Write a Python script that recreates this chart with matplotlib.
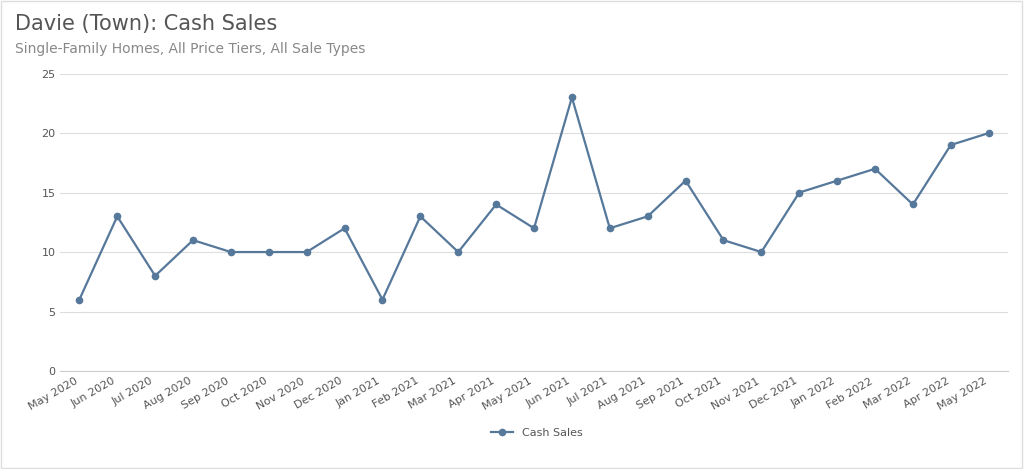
import matplotlib.pyplot as plt

months = ['May 2020', 'Jun 2020', 'Jul 2020', 'Aug 2020', 'Sep 2020', 'Oct 2020',
          'Nov 2020', 'Dec 2020', 'Jan 2021', 'Feb 2021', 'Mar 2021', 'Apr 2021',
          'May 2021', 'Jun 2021', 'Jul 2021', 'Aug 2021', 'Sep 2021', 'Oct 2021',
          'Nov 2021', 'Dec 2021', 'Jan 2022', 'Feb 2022', 'Mar 2022', 'Apr 2022',
          'May 2022']
cash_sales = [6, 13, 8, 11, 10, 10, 10, 12, 6, 13, 10, 14, 12, 23, 12, 13, 16, 11,
              10, 15, 16, 17, 14, 19, 20]

color = '#56789a'
fig = plt.figure(figsize=(10.24, 4.69), dpi=100)
ax = fig.add_axes([0.059, 0.209, 0.925, 0.634])
x = range(len(months))
ax.plot(x, cash_sales, color=color, lw=1.6, marker='o', ms=4.5, label='Cash Sales')

ax.set_ylim(0, 25)
ax.set_yticks(range(0, 26, 5))
ax.set_xlim(-0.5, len(months) - 0.5)
ax.set_xticks(list(x))
ax.set_xticklabels(months, rotation=30, ha='right', fontsize=8, color='#555555')
ax.tick_params(axis='y', labelsize=8, labelcolor='#555555', length=0)
ax.tick_params(axis='x', length=0)
ax.grid(axis='y', color='#dddddd', lw=0.8)
for s in ['top', 'right', 'left']:
    ax.spines[s].set_visible(False)
ax.spines['bottom'].set_color('#cccccc')

fig.text(0.015, 0.935, 'Davie (Town): Cash Sales', fontsize=15, color='#555555')
fig.text(0.015, 0.888, 'Single-Family Homes, All Price Tiers, All Sale Types',
         fontsize=10, color='#888888')
fig.legend(loc='center', bbox_to_anchor=(0.524, 0.077), frameon=False, fontsize=8,
           labelcolor='#555555')
fig.patches.append(plt.Rectangle((0.001, 0.002), 0.997, 0.995, transform=fig.transFigure,
                                 fill=False, edgecolor='#dddddd', lw=1))
fig.savefig('out.png')
